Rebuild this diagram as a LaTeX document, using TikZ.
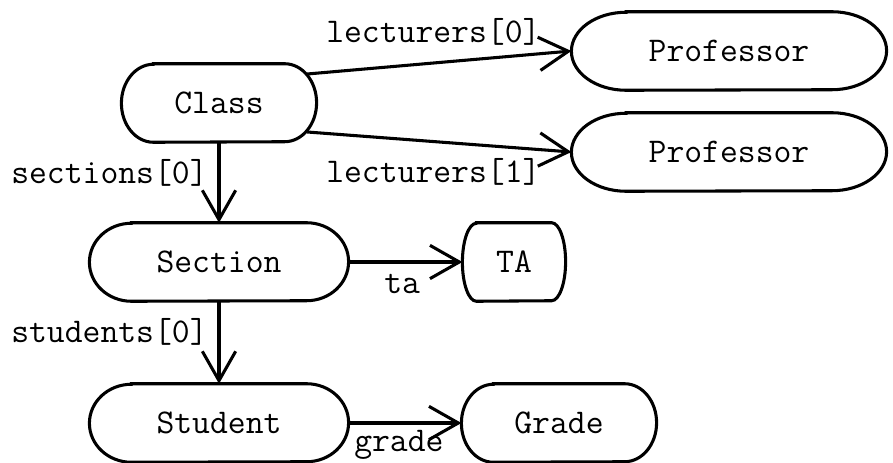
\documentclass[tikz,border=0pt]{standalone}
\usepackage{fontspec}
\usetikzlibrary{arrows.meta}
\newcommand{\objfont}{\fontsize{26}{31}\selectfont\ttfamily}
% border with half-ellipse ends: #1 node, #2 end radius
\newcommand{\objborder}[2]{\draw[border] ([xshift=#2]#1.north west) -- ([xshift=-#2]#1.north east)
	arc[start angle=90,end angle=-90,x radius=#2,y radius=29.25pt] -- ([xshift=#2]#1.south west)
	arc[start angle=270,end angle=90,x radius=#2,y radius=29.25pt] -- cycle;}

\begin{document}
\begin{tikzpicture}[x=0.75pt,y=-0.75pt,
	obj/.style={inner sep=0pt,minimum height=58.5pt,font=\objfont},
	border/.style={line width=2.3pt},
	lbl/.style={anchor=base west,inner sep=0pt,font=\objfont},
	ref/.style={line width=2.3pt,-{Straight Barb[length=22pt,width=25pt]}}]
		\fill[white] (0,0) rectangle (893,463);
		\useasboundingbox (0,0) rectangle (893,463);
		
		\node[obj,minimum width=146pt] (class) at (219,103) {Class};
		\node[obj,minimum width=236pt] (prof1) at (729,51) {Professor};
		\node[obj,minimum width=236pt] (prof2) at (729,152) {Professor};
		\node[obj,minimum width=194pt] (section) at (219,262) {Section};
		\node[obj,minimum width=77pt] (ta) at (514,262) {TA};
		\node[obj,minimum width=194pt] (student) at (219,423) {Student};
		\node[obj,minimum width=146pt] (grade) at (559,423) {Grade};
		
		\objborder{class}{24pt}
		\objborder{prof1}{41pt}
		\objborder{prof2}{41pt}
		\objborder{section}{31.5pt}
		\objborder{ta}{10.5pt}
		\objborder{student}{31.5pt}
		\objborder{grade}{24pt}
		
		\draw[ref] ([shift={(-7pt,21.75pt)}]class.east) to (prof1.west);
		\draw[ref] ([shift={(-7pt,-21.75pt)}]class.east) to (prof2.west);
		\draw[ref] (class.south) to (section.north);
		\draw[ref] (section.east) to (ta.west);
		\draw[ref] (section.south) to (student.north);
		\draw[ref] (student.east) to (grade.west);
		
		\node[lbl] (lec0) at (326,43) {lecturers[0]};
		\node[lbl] (lec1) at (326,183) {lecturers[1]};
		\node[lbl] (sec0) at (11,184) {sections[0]};
		\node[lbl] (tal) at (384,294) {ta};
		\node[lbl] (stu0) at (11,343) {students[0]};
		\node[lbl] (grl) at (354,451) {grade};
	\end{tikzpicture}
\end{document}
